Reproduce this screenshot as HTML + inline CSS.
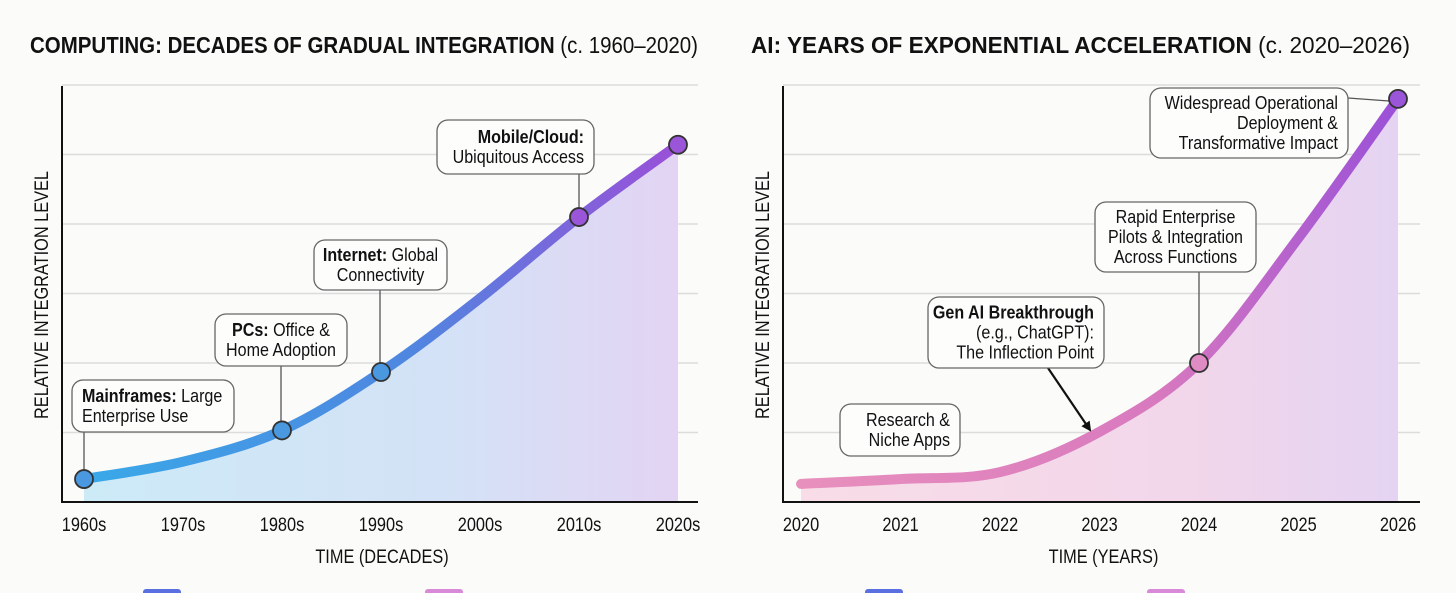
<!DOCTYPE html>
<html><head><meta charset="utf-8"><style>
html,body{margin:0;padding:0;background:#fbfbf9;}
svg{display:block;font-family:"Liberation Sans",sans-serif;}
</style></head><body>
<svg id="c" width="1456" height="593" viewBox="0 0 1456 593" xmlns="http://www.w3.org/2000/svg">
<defs>
<linearGradient id="lgL" x1="0" x2="1" y1="0" y2="0"><stop offset="0" stop-color="#39a9e8"/><stop offset="0.55" stop-color="#4f86e0"/><stop offset="1" stop-color="#9b4fd8"/></linearGradient>
<linearGradient id="fgL" x1="0" x2="1" y1="0" y2="0"><stop offset="0" stop-color="#cdeaf7"/><stop offset="0.6" stop-color="#d3e2f6"/><stop offset="1" stop-color="#e3d4f3"/></linearGradient>
<linearGradient id="lgR" x1="0" x2="1" y1="0" y2="0"><stop offset="0" stop-color="#e890bd"/><stop offset="0.6" stop-color="#d879bf"/><stop offset="1" stop-color="#9a50d8"/></linearGradient>
<linearGradient id="fgR" x1="0" x2="1" y1="0" y2="0"><stop offset="0" stop-color="#f8dde8"/><stop offset="0.65" stop-color="#f2d6ea"/><stop offset="1" stop-color="#e4d4f2"/></linearGradient>
<marker id="arr" markerWidth="10" markerHeight="10" refX="8" refY="5" orient="auto" markerUnits="userSpaceOnUse"><path d="M0,0 L10,5 L0,10 z" fill="#111"/></marker>
</defs>
</svg>
<script>
const leftCats=["1960s","1970s","1980s","1990s","2000s","2010s","2020s"];
const leftVals=[0.33,0.58,1.03,1.87,2.93,4.1,5.14];
const leftMarked=[0,2,3,5,6];
const rightCats=["2020","2021","2022","2023","2024","2025","2026"];
const rightVals=[0.26,0.33,0.43,1.01,2.0,3.8,5.8];
const rightMarked=[4,6];
const gridLevels=[1,2,3,4,5,6];

const NS="http://www.w3.org/2000/svg";
const svg=document.getElementById('c');
const SX=0.86;
function el(tag,attrs,parent){const e=document.createElementNS(NS,tag);for(const k in attrs)e.setAttribute(k,attrs[k]);(parent||svg).appendChild(e);return e;}
function txt(x,y,attrs,parent,rot){const t=el('text',Object.assign({x:0,y:0,transform:`translate(${x},${y})${rot?' rotate(-90)':''} scale(${SX},1)`},attrs),parent);return t;}
function smooth(pts){let d="M"+pts[0][0]+","+pts[0][1];for(let i=0;i<pts.length-1;i++){const p0=pts[Math.max(0,i-1)],p1=pts[i],p2=pts[i+1],p3=pts[Math.min(pts.length-1,i+2)];const c1=[p1[0]+(p2[0]-p0[0])/6,p1[1]+(p2[1]-p0[1])/6],c2=[p2[0]-(p3[0]-p1[0])/6,p2[1]-(p3[1]-p1[1])/6];d+=" C"+c1[0]+","+c1[1]+" "+c2[0]+","+c2[1]+" "+p2[0]+","+p2[1];}return d;}

function panel(o){
  const g=el('g',{});
  
  
  const x=i=>o.x0+i*o.dx, y=v=>o.yb-v*o.dy;
  gridLevels.forEach(l=>{const gl=el('line',{x1:o.ax,x2:o.ar,y1:y(l),y2:y(l),stroke:'#dcdcdc','stroke-width':1.5},g);
    
    });
  const pts=o.vals.map((v,i)=>[x(i),y(v)]);
  const lp=smooth(pts);
  const area=el('path',{d:lp+` L${x(o.vals.length-1)},${o.yb} L${x(0)},${o.yb} Z`,fill:o.fill},g);
  
  
  const ax=el('path',{d:`M${o.ax},${o.yt} L${o.ax},${o.yb} L${o.ar},${o.yb}`,fill:'none',stroke:'#111','stroke-width':2},g);
  
  
  const line=el('path',{d:lp,fill:'none',stroke:o.stroke,'stroke-width':10,'stroke-linecap':'round'},g);
  
  
  o.cats.forEach((c,i)=>{const t=txt(x(i),531,{'text-anchor':'middle','font-size':19,fill:'#111'},g);t.textContent=c;
    
    });
  o.boxes.forEach(b=>{
    if(b.conn){const cl=el('path',{d:b.conn,fill:'none',stroke:'#555','stroke-width':1.3,'marker-end':b.arrow?'url(#arr)':''},g);
      if(b.arrow)cl.setAttribute('stroke','#111'),cl.setAttribute('stroke-width',2.2);
      
      }
    const r=el('rect',{x:b.x,y:b.y,width:b.w,height:b.h,rx:11,fill:'#fdfdfc',stroke:'#666','stroke-width':1.3},g);
    
    
    const tx=b.al==='start'?b.x+10:b.al==='end'?b.x+b.w-10:b.x+b.w/2;
    b.lines.forEach((ln,k)=>{const t=txt(tx,b.y+b.h/2-(b.lines.length-1)*10+k*20+6,{'text-anchor':b.al,'font-size':18.7,fill:'#111'},g);
      
      
      ln.forEach(seg=>{const s=el('tspan',{'font-weight':seg[1]?'bold':'normal'},t);s.textContent=seg[0];});});
  });
  o.marked.forEach(i=>{const c=el('circle',{cx:x(i),cy:y(o.vals[i]),r:9,fill:o.mcol(i),stroke:'#333','stroke-width':1.8},g);
    
    });
  const tt=el('text',{x:o.tx,y:53,'font-size':23,fill:'#111',textLength:o.tw,lengthAdjust:'spacingAndGlyphs'},g);
  
  
  const a=el('tspan',{'font-weight':'bold'},tt);a.textContent=o.title;
  const b2=el('tspan',{},tt);b2.textContent=o.sub;
  const yt=txt(o.ax-14,295,{'text-anchor':'middle','font-size':19,fill:'#111'},g,true);
  yt.textContent="RELATIVE INTEGRATION LEVEL";
  
  
  const xt=txt((o.ax+o.ar)/2+2,563,{'text-anchor':'middle','font-size':19,fill:'#111'},g);
  xt.textContent=o.xtitle;
  
  
  o.legend.forEach(lg=>{const r=el('rect',{x:lg[0],y:589,width:38,height:8,rx:3,fill:lg[1]},g);
    
    });
}

panel({name:'computing-panel',x0:84,dx:99,yb:502,dy:69.5,ax:62,ar:698,yt:86,vals:leftVals,cats:leftCats,marked:leftMarked,
  stroke:'url(#lgL)',fill:'url(#fgL)',tx:30,tw:668,title:'COMPUTING: DECADES OF GRADUAL INTEGRATION',sub:' (c. 1960–2020)',xtitle:'TIME (DECADES)',
  mcol:i=>i>=5?'#9a55d8':'#4a98df',legend:[[143,'#5a6fe0'],[425,'#d88ad8']],
  boxes:[
   {x:72,y:380,w:162,h:52,al:'start',lines:[[['Mainframes:',1],[' Large',0]],[['Enterprise Use',0]]],conn:'M84,432 L84,470'},
   {x:215,y:314,w:132,h:52,al:'middle',lines:[[['PCs:',1],[' Office &',0]],[['Home Adoption',0]]],conn:'M281,366 L281,422'},
   {x:314,y:240,w:133,h:50,al:'middle',lines:[[['Internet:',1],[' Global',0]],[['Connectivity',0]]],conn:'M380,290 L380,364'},
   {x:437,y:120,w:157,h:54,al:'end',lines:[[['Mobile/Cloud:',1]],[['Ubiquitous Access',0]]],conn:'M579,174 L579,210'}
  ]});
panel({name:'ai-panel',x0:801,dx:99.5,yb:502,dy:69.5,ax:783,ar:1420,yt:86,vals:rightVals,cats:rightCats,marked:rightMarked,
  stroke:'url(#lgR)',fill:'url(#fgR)',tx:751,tw:659,title:'AI: YEARS OF EXPONENTIAL ACCELERATION',sub:' (c. 2020–2026)',xtitle:'TIME (YEARS)',
  mcol:i=>i>=6?'#9a55d8':'#df8cc4',legend:[[865,'#5a6fe0'],[1147,'#d88ad8']],
  boxes:[
   {x:1150,y:88,w:198,h:70,al:'end',lines:[[['Widespread Operational',0]],[['Deployment &',0]],[['Transformative Impact',0]]],conn:'M1348,98 L1389,101'},
   {x:1095,y:202,w:161,h:70,al:'middle',lines:[[['Rapid Enterprise',0]],[['Pilots & Integration',0]],[['Across Functions',0]]],conn:'M1199,272 L1199,355'},
   {x:928,y:297,w:176,h:71,al:'end',lines:[[['Gen AI Breakthrough',1]],[['(e.g., ChatGPT):',0]],[['The Inflection Point',0]]],conn:'M1048,368 L1090,430',arrow:1},
   {x:840,y:404,w:120,h:52,al:'end',lines:[[['Research &',0]],[['Niche Apps',0]]]}
  ]});
</script>
</body></html>
